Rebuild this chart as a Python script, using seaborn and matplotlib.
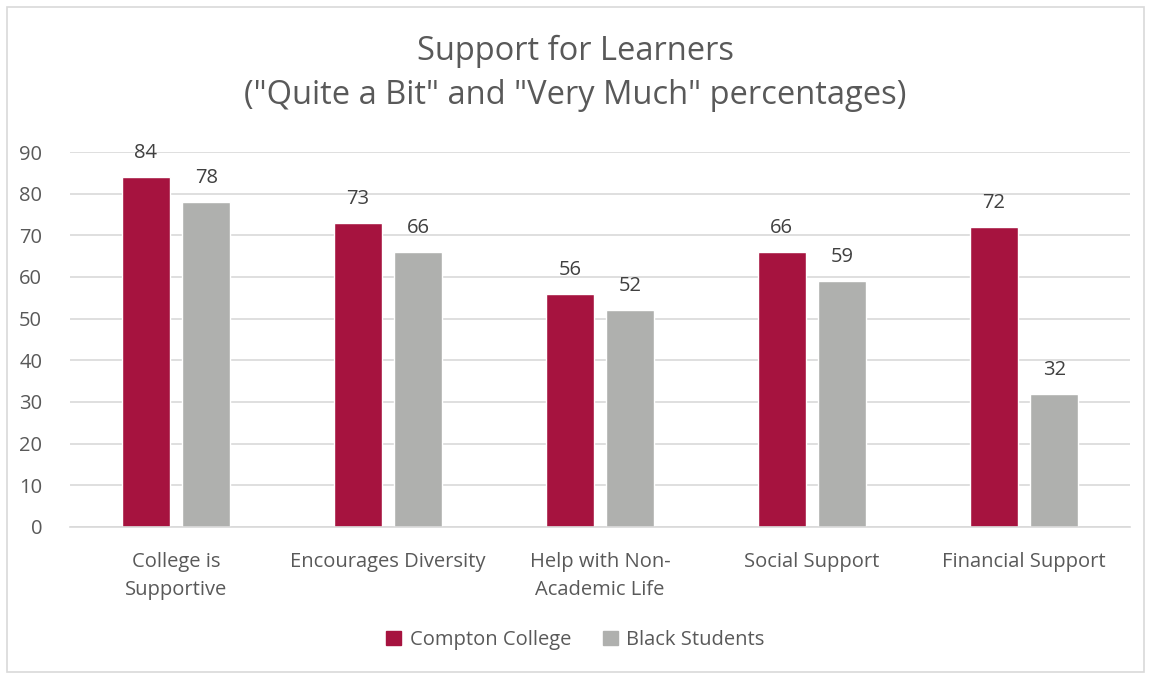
import matplotlib
matplotlib.use("Agg")
import matplotlib.pyplot as plt
import seaborn as sns
import pandas as pd
from matplotlib.patches import Rectangle

categories = ["College is\nSupportive", "Encourages Diversity", "Help with Non-\nAcademic Life",
              "Social Support", "Financial Support"]
compton = [84, 73, 56, 66, 72]
black = [78, 66, 52, 59, 32]
series = ["Compton College", "Black Students"]
yticks = [0, 10, 20, 30, 40, 50, 60, 70, 80, 90]

df = pd.DataFrame({
    "category": categories * 2,
    "value": compton + black,
    "series": [series[0]] * len(categories) + [series[1]] * len(categories),
})

sns.set_theme(style="white")
plt.rcParams["font.family"] = ["Open Sans", "DejaVu Sans"]
text_color = "#595959"

fig = plt.figure(figsize=(11.51, 6.75), dpi=100)
ax = fig.add_axes([0.0608, 0.2193, 0.9209, 0.5555])

palette = {series[0]: "#A6133F", series[1]: "#AFB0AE"}
sns.barplot(data=df, x="category", y="value", hue="series", palette=palette,
            width=0.57, gap=0.21, ax=ax, saturation=1, legend=True)

for cont in ax.containers:
    ax.bar_label(cont, labels=[f"{v:.0f}" for v in cont.datavalues], padding=10,
                 fontsize=14.5, color="#404040")

ax.set_ylim(0, 90)
ax.set_yticks(yticks)
ax.set_xlim(-0.5, len(categories) - 0.5)
ax.yaxis.grid(True, color="#d9d9d9", linewidth=1.2)
ax.set_axisbelow(True)
for s in ["top", "right", "left"]:
    ax.spines[s].set_visible(False)
ax.spines["bottom"].set_color("#d9d9d9")
ax.spines["bottom"].set_linewidth(1.2)
ax.tick_params(axis="both", length=0, labelsize=14.5, colors=text_color)
ax.tick_params(axis="x", pad=18)
ax.tick_params(axis="y", pad=20)
for lbl in ax.get_xticklabels():
    lbl.set_linespacing(1.55)
ax.set_xlabel("")
ax.set_ylabel("")

ax.legend_.remove()
handles = [Rectangle((0, 0), 1, 1, color=palette[s]) for s in series]
fig.legend(handles, series, loc="center", bbox_to_anchor=(0.5, 0.052), ncol=2,
           frameon=False, fontsize=14.5, labelcolor=text_color, handlelength=0.75,
           handleheight=0.75, columnspacing=1.6, handletextpad=0.4)

fig.text(0.5, 0.891, "Support for Learners\n(\"Quite a Bit\" and \"Very Much\" percentages)",
         ha="center", va="center", fontsize=23.5, color=text_color, linespacing=1.45)

fig.add_artist(Rectangle((0.006, 0.004), 0.988, 0.986, transform=fig.transFigure,
                         fill=False, edgecolor="#d9d9d9", linewidth=1.2))

fig.savefig("out.png", dpi=100, facecolor="white")
